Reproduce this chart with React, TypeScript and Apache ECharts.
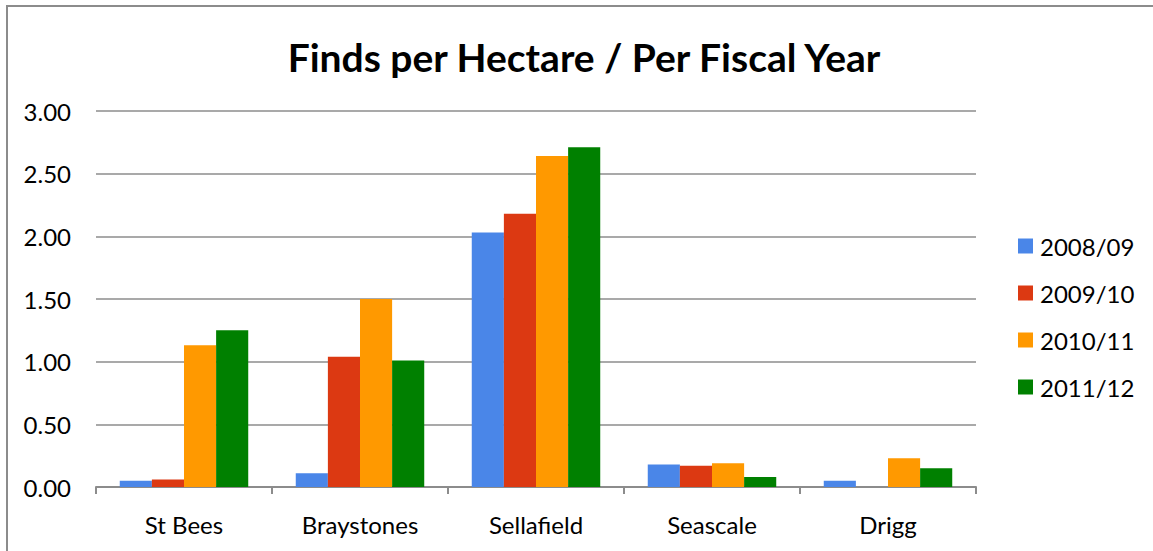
import React, { useEffect, useRef } from "react";
import * as echarts from "echarts";

const categories = ["St Bees", "Braystones", "Sellafield", "Seascale", "Drigg"];
const seriesNames = ["2008/09", "2009/10", "2010/11", "2011/12"];
const values2008 = [0.05, 0.11, 2.03, 0.18, 0.05];
const values2009 = [0.06, 1.04, 2.18, 0.17, 0];
const values2010 = [1.13, 1.5, 2.64, 0.19, 0.23];
const values2011 = [1.25, 1.01, 2.71, 0.08, 0.15];
const colors = ["#4a86e8", "#dc3912", "#ff9900", "#008000"];

const FONT = "Lato";

export default function App() {
  const ref = useRef<HTMLDivElement>(null);
  useEffect(() => {
    if (!ref.current) return;
    const chart = echarts.init(ref.current, undefined, { renderer: "svg" });
    const allValues = [values2008, values2009, values2010, values2011];
    chart.setOption({
      animation: false,
      backgroundColor: "#ffffff",
      title: {
        text: "Finds per Hectare / Per Fiscal Year",
        left: 579,
        textAlign: "center",
        top: 32,
        textStyle: { fontFamily: FONT, fontWeight: "bold", fontSize: 39, color: "#000" },
      },
      grid: { left: 96, right: 177, top: 111, bottom: 64, containLabel: false },
      legend: {
        orient: "vertical",
        left: 1013,
        top: 229,
        itemWidth: 15,
        itemHeight: 15,
        itemGap: 23,
        icon: "rect",
        data: seriesNames,
        textStyle: { fontFamily: FONT, fontSize: 24, color: "#000", padding: [0, 0, 0, 2] },
      },
      xAxis: {
        type: "category",
        data: categories,
        axisLine: { lineStyle: { color: "#8c8c8c", width: 2 } },
        axisTick: { show: true, length: 7, lineStyle: { color: "#8c8c8c", width: 2 } },
        axisLabel: { fontFamily: FONT, fontSize: 24, color: "#000", margin: 25 },
      },
      yAxis: {
        type: "value",
        min: 0,
        max: 3,
        interval: 0.5,
        axisLine: { show: false },
        axisTick: { show: false },
        splitLine: { lineStyle: { color: "#8c8c8c", width: 1.5 } },
        axisLabel: {
          fontFamily: FONT,
          fontSize: 24,
          color: "#000",
          margin: 25,
          formatter: (v: number) => v.toFixed(2),
        },
      },
      graphic: [
        { type: "line", shape: { x1: 7, y1: 5, x2: 7, y2: 551 }, style: { stroke: "#8c8c8c", lineWidth: 2 } },
        { type: "line", shape: { x1: 6, y1: 6, x2: 1153, y2: 6 }, style: { stroke: "#8c8c8c", lineWidth: 2 } },
      ],
      series: seriesNames.map((name, i) => ({
        name,
        type: "bar",
        data: allValues[i],
        barGap: "0%",
        barCategoryGap: "27%",
        itemStyle: { color: colors[i] },
      })),
    });
    return () => chart.dispose();
  }, []);
  return (
    <div
      ref={ref}
      style={{ position: "absolute", left: 0, top: 0, width: 1153, height: 551 }}
    />
  );
}
